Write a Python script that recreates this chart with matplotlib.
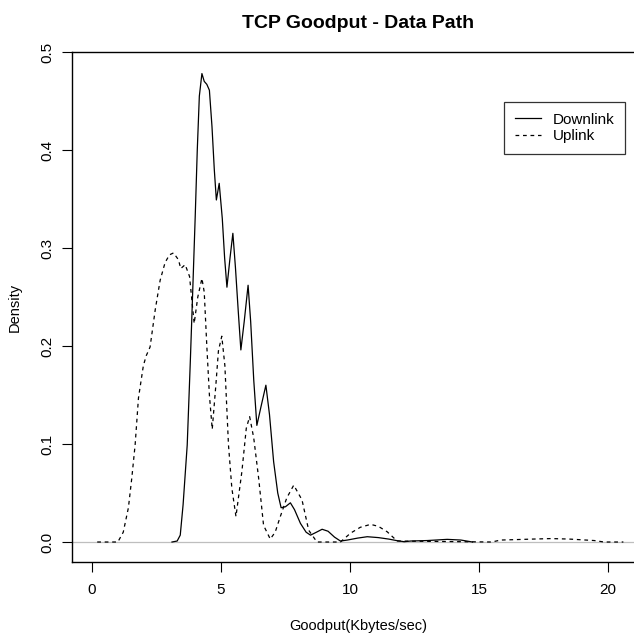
"""Recreate the TCP goodput density chart (downlink vs uplink)."""

from __future__ import annotations

import matplotlib

matplotlib.use("Agg")
import matplotlib.pyplot as plt


DOWNLINK_X = [
    3.1, 3.3, 3.42, 3.53, 3.69, 3.81, 3.87, 4.0, 4.08, 4.16, 4.26, 4.35, 4.45,
    4.55, 4.65, 4.74, 4.82, 4.93, 5.05, 5.14, 5.23, 5.35, 5.46, 5.56, 5.67,
    5.77, 5.9, 6.05, 6.15, 6.27, 6.39, 6.55, 6.74, 6.88, 7.04, 7.2, 7.33, 7.5,
    7.69, 7.85, 8.08, 8.3, 8.47, 8.7, 8.92, 9.15, 9.4, 9.63, 9.9, 10.3, 10.67,
    11.1, 11.5, 11.8, 12.1, 12.35, 13.0, 13.77, 14.3, 14.75,
]
DOWNLINK_Y = [
    0.0, 0.001, 0.007, 0.038, 0.099, 0.184, 0.23, 0.332, 0.40, 0.455, 0.478,
    0.470, 0.467, 0.461, 0.424, 0.38, 0.349, 0.366, 0.33, 0.29, 0.26, 0.29,
    0.315, 0.28, 0.235, 0.196, 0.225, 0.262, 0.225, 0.165, 0.119, 0.138,
    0.160, 0.13, 0.082, 0.05, 0.035, 0.036, 0.040, 0.033, 0.019, 0.01, 0.007,
    0.01, 0.013, 0.011, 0.005, 0.001, 0.002, 0.004, 0.0054, 0.0045, 0.003,
    0.0015, 0.0003, 0.001, 0.0015, 0.0027, 0.002, 0.0,
]

UPLINK_X = [
    0.2, 1.0, 1.21, 1.41, 1.54, 1.67, 1.80, 1.99, 2.1, 2.25, 2.45, 2.64, 2.83,
    3.0, 3.16, 3.35, 3.44, 3.61, 3.78, 3.96, 4.1, 4.26, 4.35, 4.45, 4.55,
    4.66, 4.8, 4.9, 5.03, 5.15, 5.29, 5.42, 5.58, 5.81, 5.98, 6.11, 6.27,
    6.46, 6.65, 6.91, 7.1, 7.3, 7.55, 7.82, 8.14, 8.4, 8.72, 9.63, 10.02,
    10.4, 10.8, 11.1, 11.44, 11.83, 15.5, 15.84, 16.5, 17.1, 17.8, 18.5,
    19.47, 19.85, 20.6,
]
UPLINK_Y = [
    0.0, 0.0, 0.01, 0.035, 0.065, 0.099, 0.147, 0.18, 0.19, 0.199, 0.237,
    0.267, 0.285, 0.293, 0.295, 0.288, 0.279, 0.283, 0.271, 0.223, 0.25,
    0.269, 0.255, 0.2, 0.15, 0.115, 0.16, 0.195, 0.21, 0.18, 0.099, 0.055,
    0.026, 0.072, 0.116, 0.128, 0.106, 0.065, 0.017, 0.003, 0.01, 0.026,
    0.045, 0.058, 0.043, 0.012, 0.0, 0.0, 0.009, 0.015, 0.018, 0.016,
    0.0105, 0.001, 0.0, 0.002, 0.0025, 0.003, 0.0035, 0.003, 0.0015, 0.0,
    0.0,
]

X_TICKS = [0, 5, 10, 15, 20]
Y_TICKS = [0.0, 0.1, 0.2, 0.3, 0.4, 0.5]
Y_TICK_LABELS = ["0.0", "0.1", "0.2", "0.3", "0.4", "0.5"]
SERIES_LABELS = ["Downlink", "Uplink"]

FIG_W, FIG_H = 634, 637


def main() -> int:
    plt.rcParams["font.family"] = ["Liberation Sans", "DejaVu Sans"]

    fig = plt.figure(figsize=(FIG_W / 100, FIG_H / 100), dpi=100)
    # plot box runs past the right edge of the picture, as in the reference
    ax = fig.add_axes([72 / FIG_W, 1 - 562 / FIG_H, 572 / FIG_W, 510 / FIG_H])

    ax.axhline(0, color="#bebebe", lw=0.9, zorder=1)
    ax.plot(DOWNLINK_X, DOWNLINK_Y, color="black", lw=0.9, label=SERIES_LABELS[0], zorder=3)
    ax.plot(
        UPLINK_X, UPLINK_Y, color="black", lw=0.9, linestyle=(0, (3, 3)),
        label=SERIES_LABELS[1], zorder=2,
    )

    ax.set_xlim(-0.777, 21.4)
    ax.set_ylim(-0.0204, 0.5)
    ax.set_xticks(X_TICKS)
    ax.set_yticks(Y_TICKS)
    ax.set_yticklabels(Y_TICK_LABELS, rotation=90, va="center")
    ax.tick_params(direction="out", length=7, width=0.8, labelsize=11, colors="black")
    ax.tick_params(axis="x", pad=8)
    ax.tick_params(axis="y", pad=6)
    for side in ("left", "top", "bottom"):
        ax.spines[side].set_linewidth(1.0)
        ax.spines[side].set_color("black")
    ax.spines["right"].set_visible(False)

    ax.set_title("TCP Goodput - Data Path", fontsize=14, fontweight="bold", pad=17)
    ax.set_xlabel("Goodput(Kbytes/sec)", fontsize=10.5, labelpad=16)
    ax.set_ylabel("Density", fontsize=10.5, labelpad=13)

    legend = ax.legend(
        loc="upper left",
        bbox_to_anchor=(504 / FIG_W, 1 - 102 / FIG_H),
        bbox_transform=fig.transFigure,
        fontsize=11,
        frameon=True,
        fancybox=False,
        edgecolor="black",
        handlelength=1.7,
        handletextpad=0.8,
        labelspacing=0.15,
        borderpad=0.7,
        borderaxespad=0,
    )
    legend.get_frame().set_linewidth(0.9)

    fig.savefig("out.png", dpi=100)
    plt.close(fig)
    return 0


if __name__ == "__main__":
    raise SystemExit(main())
